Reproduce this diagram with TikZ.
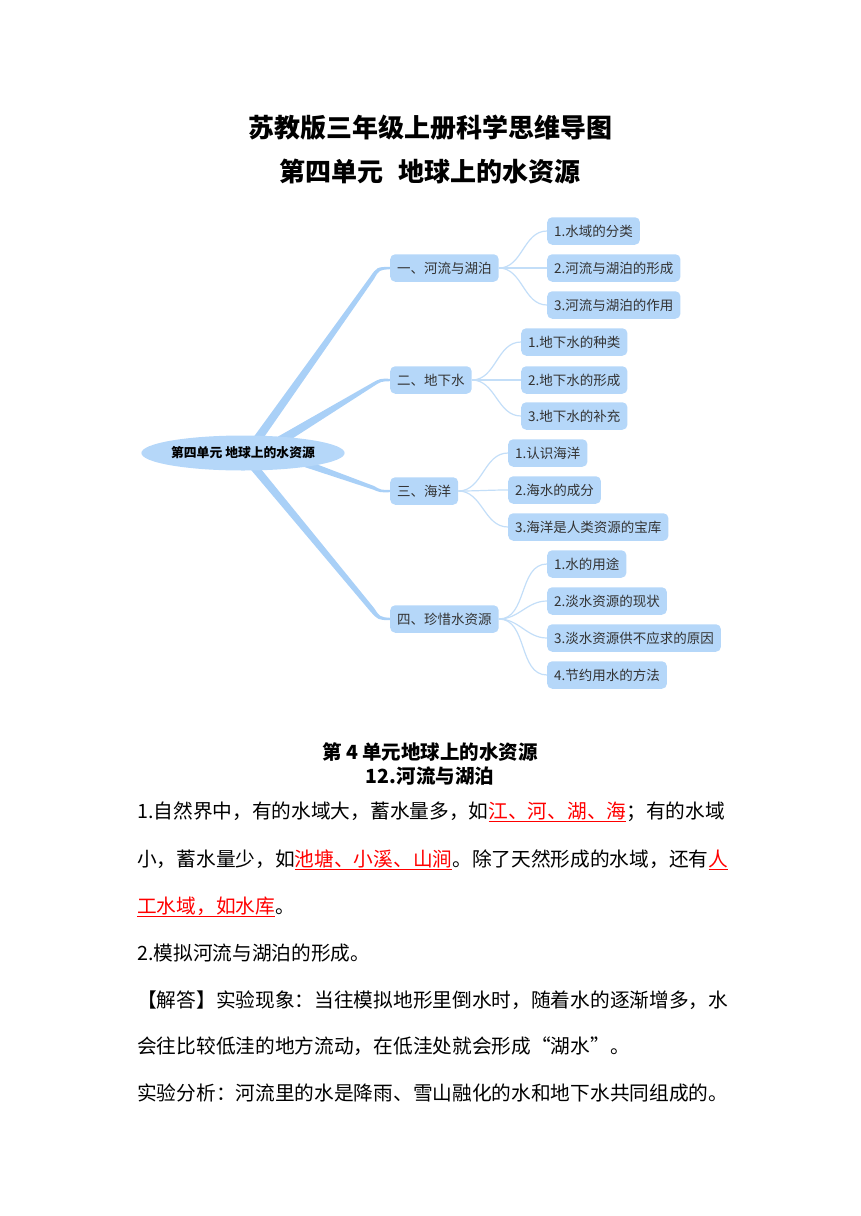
\documentclass[tikz,border=0pt]{standalone}
\usepackage{fontspec}
\setmainfont{Noto Sans CJK SC}
\usepackage{xcolor}
\usepackage{tikz}
\usetikzlibrary{shapes.geometric, positioning, calc, backgrounds}

\definecolor{mapblue}{HTML}{B5D7F9}
\definecolor{limbblue}{HTML}{A9D0F7}
\definecolor{twigblue}{HTML}{C3DEF8}
\definecolor{maptext}{HTML}{333333}

%% red underlined answer text
\newcommand{\redline}[1]{{\color{red}\setbox0=\hbox{#1}\rlap{\rule[-3.5pt]{\wd0}{0.9pt}}\box0}}

\tikzset{
  %% Root of the mind map
  rootoval/.style={
    ellipse, fill=mapblue, minimum width=200pt, minimum height=35pt,
    inner sep=0pt, font=\fontsize{12.8}{14}\selectfont\bfseries
  },
  %% Topic and sub-topic boxes
  topic/.style={
    rectangle, rounded corners=5pt, fill=mapblue,
    minimum height=27.5pt, inner xsep=7pt, inner ysep=0pt,
    anchor=west, text=maptext, font=\fontsize{13.5}{15}\selectfont
  },
  %% Connectors
  limb/.style={fill=limbblue},
  twig/.style={draw=twigblue, line width=1.2pt},
  %% Text blocks
  heading/.style={inner sep=0pt, font=\fontsize{26}{30}\selectfont\bfseries},
  subhead/.style={inner sep=0pt, font=\fontsize{19.5}{22}\selectfont\bfseries},
  bodyline/.style={anchor=west, inner sep=0pt, font=\fontsize{19.7}{22}\selectfont},
}

\begin{document}
\begin{tikzpicture}[x=1pt, y=-1pt]
  \useasboundingbox (0,0) rectangle (860,1216);

  %% Titles
  \node[heading] (title) at (430,128) {苏教版三年级上册科学思维导图};
  \node[heading] (unit)  at (430,172) {第四单元\hspace{0.6em}地球上的水资源};

  %% Mind map
  \node[rootoval] (root) at (243,453) {第四单元 地球上的水资源};

  \node[topic] (rl)   at (390,268) {一、河流与湖泊};
  \node[topic] (gw)   at (390,380) {二、地下水};
  \node[topic] (sea)  at (390,491) {三、海洋};
  \node[topic] (save) at (390,619) {四、珍惜水资源};

  \node[topic] (rl1) at (547,231) {1.水域的分类};
  \node[topic] (rl2) at (547,268) {2.河流与湖泊的形成};
  \node[topic] (rl3) at (547,305) {3.河流与湖泊的作用};

  \node[topic] (gw1) at (521,342) {1.地下水的种类};
  \node[topic] (gw2) at (521,380) {2.地下水的形成};
  \node[topic] (gw3) at (521,416) {3.地下水的补充};

  \node[topic] (sea1) at (508,453) {1.认识海洋};
  \node[topic] (sea2) at (508,490) {2.海水的成分};
  \node[topic] (sea3) at (508,527) {3.海洋是人类资源的宝库};

  \node[topic] (save1) at (547,564) {1.水的用途};
  \node[topic] (save2) at (547,601) {2.淡水资源的现状};
  \node[topic] (save3) at (547,638) {3.淡水资源供不应求的原因};
  \node[topic] (save4) at (547,675) {4.节约用水的方法};

  \begin{scope}[on background layer]
    %% thick tapered branches out of the root
    \fill[limb] ($(root)+(-1,0)$) -- ($(rl.west)+(-20,9)$)
      .. controls ($(rl.west)+(-13,-1)$) .. ($(rl.west)+(0,-1.2)$)
      -- ($(rl.west)+(0,1.2)$)
      .. controls ($(rl.west)+(-11,2)$) .. ($(rl.west)+(-16,11)$)
      -- ($(root)+(10,0)$) -- cycle;
    \fill[limb] ($(root)+(22,-9)$) -- ($(gw.west)+(-18,3)$)
      .. controls ($(gw.west)+(-10,-1.5)$) .. ($(gw.west)+(0,-1.2)$)
      -- ($(gw.west)+(0,1.2)$)
      .. controls ($(gw.west)+(-9,1.5)$) .. ($(gw.west)+(-16,6)$)
      -- ($(root)+(30,-2)$) -- cycle;
    \fill[limb] ($(root)+(36,-3)$) -- ($(sea.west)+(-16,-5)$)
      .. controls ($(sea.west)+(-9,-1)$) .. ($(sea.west)+(0,-1.2)$)
      -- ($(sea.west)+(0,1.2)$)
      .. controls ($(sea.west)+(-10,1.5)$) .. ($(sea.west)+(-17,-1.5)$)
      -- ($(root)+(34,5)$) -- cycle;
    \fill[limb] ($(root)+(-2,5)$) -- ($(save.west)+(-20,-8)$)
      .. controls ($(save.west)+(-12,1)$) .. ($(save.west)+(0,1.2)$)
      -- ($(save.west)+(0,-1.2)$)
      .. controls ($(save.west)+(-10,-2)$) .. ($(save.west)+(-16,-11)$)
      -- ($(root)+(9,5)$) -- cycle;

    %% thin links to the sub-topics
    \draw[twig] (rl.east) to[out=0,in=180] (rl1.west);
    \draw[twig] (rl.east) to[out=0,in=180] (rl2.west);
    \draw[twig] (rl.east) to[out=0,in=180] (rl3.west);
    \draw[twig] (gw.east) to[out=0,in=180] (gw1.west);
    \draw[twig] (gw.east) to[out=0,in=180] (gw2.west);
    \draw[twig] (gw.east) to[out=0,in=180] (gw3.west);
    \draw[twig] (sea.east) to[out=0,in=180] (sea1.west);
    \draw[twig] (sea.east) to[out=0,in=180] (sea2.west);
    \draw[twig] (sea.east) to[out=0,in=180] (sea3.west);
    \draw[twig] (save.east) to[out=0,in=180] (save1.west);
    \draw[twig] (save.east) to[out=0,in=180] (save2.west);
    \draw[twig] (save.east) to[out=0,in=180] (save3.west);
    \draw[twig] (save.east) to[out=0,in=180] (save4.west);
  \end{scope}

  %% Lesson notes
  \node[subhead] (chapter) at (430,752) {第 4 单元地球上的水资源};
  \node[subhead] (lesson)  at (430,776) {12.河流与湖泊};

  \node[bodyline] (p1) at (137,812)
       {1.自然界中，有的水域大，蓄水量多，如\redline{江、河、湖、海}；有的水域};
  \node[bodyline] (p2) at (137,860)
       {小，蓄水量少，如\redline{池塘、小溪、山涧}。除了天然形成的水域，还有\redline{人}};
  \node[bodyline] (p3) at (137,907) {\redline{工水域，如水库}。};
  \node[bodyline] (p4) at (137,953) {2.模拟河流与湖泊的形成。};
  \node[bodyline] (p5) at (137,1000)
       {【解答】实验现象：当往模拟地形里倒水时，随着水的逐渐增多，水};
  \node[bodyline] (p6) at (137,1046)
       {会往比较低洼的地方流动，在低洼处就会形成“湖水”。};
  \node[bodyline] (p7) at (137,1093)
       {实验分析：河流里的水是降雨、雪山融化的水和地下水共同组成的。};

\end{tikzpicture}
\end{document}
